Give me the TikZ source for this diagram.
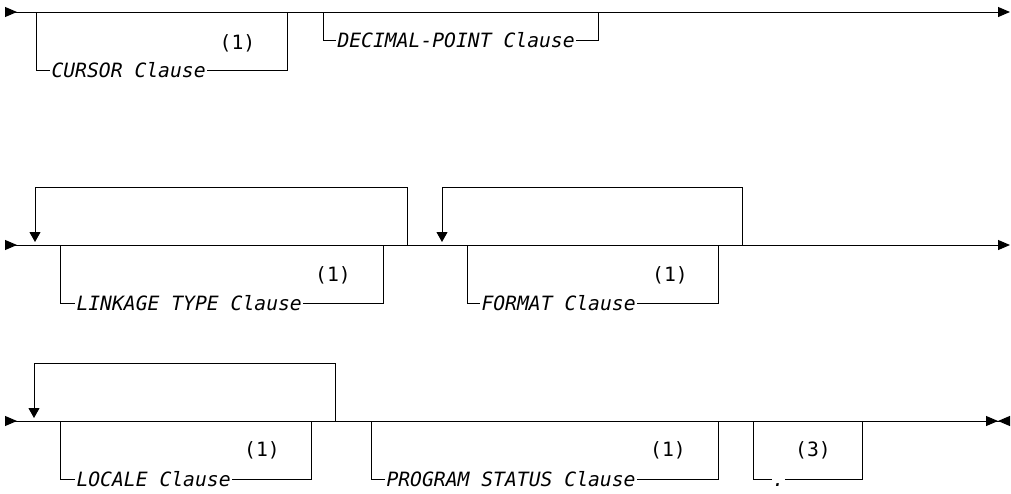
\documentclass[tikz,border=0pt]{standalone}
\usepackage{fontspec}
\setmonofont{DejaVu Sans Mono}
\usetikzlibrary{arrows.meta}

\begin{document}
\begin{tikzpicture}[x=1pt,y=1pt,line width=1pt]
\tikzstyle{every node}+=[inner sep=1pt]
\tikzstyle{clause}=[anchor=west,font=\fontsize{19.7}{20}\selectfont\ttfamily\itshape,text height=14.4pt,text depth=0pt]
\tikzstyle{note}=[font=\fontsize{19.7}{20}\selectfont\ttfamily]
\tikzstyle{track}=[{Triangle[reversed,length=12pt,width=10pt]}-{Triangle[length=12pt,width=10pt]}]
\tikzstyle{repeat}=[-{Triangle[length=10pt,width=11pt]}]
\useasboundingbox (0,0) rectangle (1011,-493);
% first row
\coordinate (s1) at (5,-12);
\coordinate (e1) at (1010,-12);
\draw [track] (s1) -- (e1);
\coordinate (cur1) at (36,-12);
\coordinate (cur2) at (287,-12);
\node [clause] (cursor) at (50,-70) {CURSOR Clause};
\node [note] (n1) at (237.5,-43) {(1)};
\draw (cur1) |- (cursor.west);
\draw (cursor.east) -| (cur2);
\coordinate (dec1) at (323,-12);
\coordinate (dec2) at (598,-12);
\node [clause] (decimal) at (336,-40) {DECIMAL-POINT Clause};
\draw (dec1) |- (decimal.west);
\draw (decimal.east) -| (dec2);
% second row
\coordinate (s2) at (5,-245);
\coordinate (e2) at (1010,-245);
\draw [track] (s2) -- (e2);
\coordinate (rep1a) at (35,-187);
\coordinate (rep1b) at (407,-245);
\coordinate (rep1t) at (35,-242);
\draw [repeat] (rep1b) -- (rep1b |- rep1a) -- (rep1a) -- (rep1t);
\coordinate (lnk1) at (60,-245);
\coordinate (lnk2) at (383,-245);
\node [clause] (linkage) at (75,-303) {LINKAGE TYPE Clause};
\node [note] (n2) at (333,-275) {(1)};
\draw (lnk1) |- (linkage.west);
\draw (linkage.east) -| (lnk2);
\coordinate (rep2a) at (442,-187);
\coordinate (rep2b) at (742,-245);
\coordinate (rep2t) at (442,-242);
\draw [repeat] (rep2b) -- (rep2b |- rep2a) -- (rep2a) -- (rep2t);
\coordinate (fmt1) at (467,-245);
\coordinate (fmt2) at (718,-245);
\node [clause] (format) at (480,-303) {FORMAT Clause};
\node [note] (n3) at (670,-275) {(1)};
\draw (fmt1) |- (format.west);
\draw (format.east) -| (fmt2);
% third row
\coordinate (s3) at (5,-421);
\coordinate (e3) at (1010,-421);
\draw [{Triangle[reversed,length=12pt,width=10pt]}-{Triangle[length=12pt,width=10pt] Triangle[reversed,length=12pt,width=10pt]}] (s3) -- (e3);
\coordinate (rep3a) at (34,-363);
\coordinate (rep3b) at (335,-421);
\coordinate (rep3t) at (34,-418);
\draw [repeat] (rep3b) -- (rep3b |- rep3a) -- (rep3a) -- (rep3t);
\coordinate (loc1) at (60,-421);
\coordinate (loc2) at (311,-421);
\node [clause] (locale) at (75,-479) {LOCALE Clause};
\node [note] (n4) at (262,-450) {(1)};
\draw (loc1) |- (locale.west);
\draw (locale.east) -| (loc2);
\coordinate (prg1) at (371,-421);
\coordinate (prg2) at (718,-421);
\node [clause] (status) at (385,-479) {PROGRAM STATUS Clause};
\node [note] (n5) at (668,-450) {(1)};
\draw (prg1) |- (status.west);
\draw (status.east) -| (prg2);
\coordinate (pt1) at (753,-421);
\coordinate (pt2) at (862,-421);
\node [clause,inner sep=0pt] (period) at (772,-479) {.};
\node [note] (n6) at (813,-450) {(3)};
\draw (pt1) |- (period.west);
\draw (period.east) -| (pt2);
\end{tikzpicture}
\end{document}
